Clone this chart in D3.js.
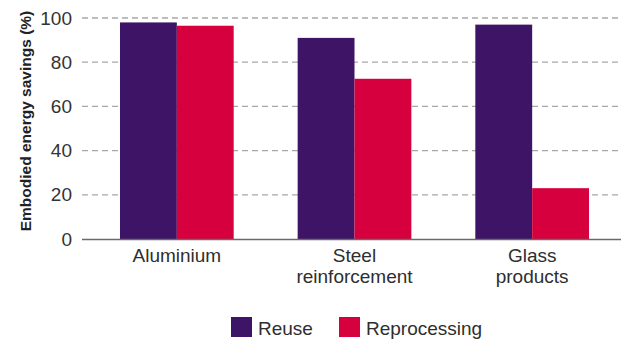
<!DOCTYPE html>
<html>
<head>
<meta charset="utf-8">
<script src="https://cdn.jsdelivr.net/npm/d3@7"></script>
<style>
  body { margin: 0; background: #fff; }
  text { font-family: "Liberation Sans", Arial, sans-serif; }
</style>
</head>
<body>
<div id="chart"></div>
<script>
// chart data
var categories = ["Aluminium", "Steel\nreinforcement", "Glass\nproducts"];
var seriesNames = ["Reuse", "Reprocessing"];
var reuse = [98, 91, 97];
var reprocessing = [96.5, 72.5, 23];
var yTicks = [0, 20, 40, 60, 80, 100];

var colors = { "Reuse": "#3d1466", "Reprocessing": "#d6003e" };

var width = 621, height = 357;

var svg = d3.select("#chart")
  .append("svg")
  .attr("width", width)
  .attr("height", height);

// scales
var x = d3.scaleBand()
  .domain(categories)
  .range([88, 621])
  .paddingInner(0.36)
  .paddingOuter(0.18);

var xSub = d3.scaleBand()
  .domain(seriesNames)
  .range([0, x.bandwidth()]);

var y = d3.scaleLinear()
  .domain([0, 100])
  .range([239, 18]);

// dashed gridlines
svg.append("g")
  .selectAll("line")
  .data(yTicks.filter(function(d){ return d > 0; }))
  .enter()
  .append("line")
    .attr("x1", 82)
    .attr("x2", 621)
    .attr("y1", function(d){ return y(d); })
    .attr("y2", function(d){ return y(d); })
    .attr("stroke", "#a8a8a8")
    .attr("stroke-width", 1.3)
    .attr("stroke-dasharray", "6,4");

// y axis tick labels
var yAxis = svg.append("g")
  .attr("transform", "translate(72,0)")
  .call(d3.axisLeft(y).tickValues(yTicks).tickSize(0).tickPadding(0));
yAxis.select(".domain").remove();
yAxis.selectAll("text")
  .style("font-size", "19px")
  .style("font-family", "'Liberation Sans', Arial, sans-serif")
  .attr("fill", "#333");

// bars
var rows = categories.map(function(c, i){
  return { cat: c, values: [ {name: "Reuse", value: reuse[i]}, {name: "Reprocessing", value: reprocessing[i]} ] };
});

svg.append("g")
  .selectAll("g")
  .data(rows)
  .enter()
  .append("g")
    .attr("transform", function(d){ return "translate(" + x(d.cat) + ",0)"; })
  .selectAll("rect")
  .data(function(d){ return d.values; })
  .enter()
  .append("rect")
    .attr("x", function(d){ return xSub(d.name); })
    .attr("width", xSub.bandwidth())
    .attr("y", function(d){ return y(d.value); })
    .attr("height", function(d){ return y(0) - y(d.value); })
    .attr("fill", function(d){ return colors[d.name]; });

// baseline
svg.append("line")
  .attr("x1", 82)
  .attr("x2", 621)
  .attr("y1", y(0) + 0.5)
  .attr("y2", y(0) + 0.5)
  .attr("stroke", "#6a6a6a")
  .attr("stroke-width", 1.3);

// category labels (two lines where needed)
var catLabels = svg.append("g")
  .selectAll("text")
  .data(categories)
  .enter()
  .append("text")
    .attr("text-anchor", "middle")
    .attr("fill", "#2e2e2e")
    .style("font-size", "19px")
    .attr("transform", function(d){ return "translate(" + (x(d) + x.bandwidth() / 2) + ",262)"; });

catLabels.selectAll("tspan")
  .data(function(d){ return d.split("\n"); })
  .enter()
  .append("tspan")
    .attr("x", 0)
    .attr("dy", function(d, i){ return i === 0 ? 0 : 21; })
    .text(function(d){ return d; });

// y axis title
svg.append("text")
  .attr("transform", "translate(31,121) rotate(-90)")
  .attr("text-anchor", "middle")
  .attr("fill", "#222")
  .style("font-size", "15.5px")
  .style("font-weight", "bold")
  .text("Embodied energy savings (%)");

// legend
var legendX = [231, 339];
var legend = svg.append("g")
  .selectAll("g")
  .data(seriesNames)
  .enter()
  .append("g")
    .attr("transform", function(d, i){ return "translate(" + legendX[i] + ",317)"; });

legend.append("rect")
  .attr("width", 21)
  .attr("height", 20)
  .attr("fill", function(d){ return colors[d]; });

legend.append("text")
  .attr("x", 27)
  .attr("y", 18)
  .attr("fill", "#2e2e2e")
  .style("font-size", "19px")
  .text(function(d){ return d; });
</script>
</body>
</html>
